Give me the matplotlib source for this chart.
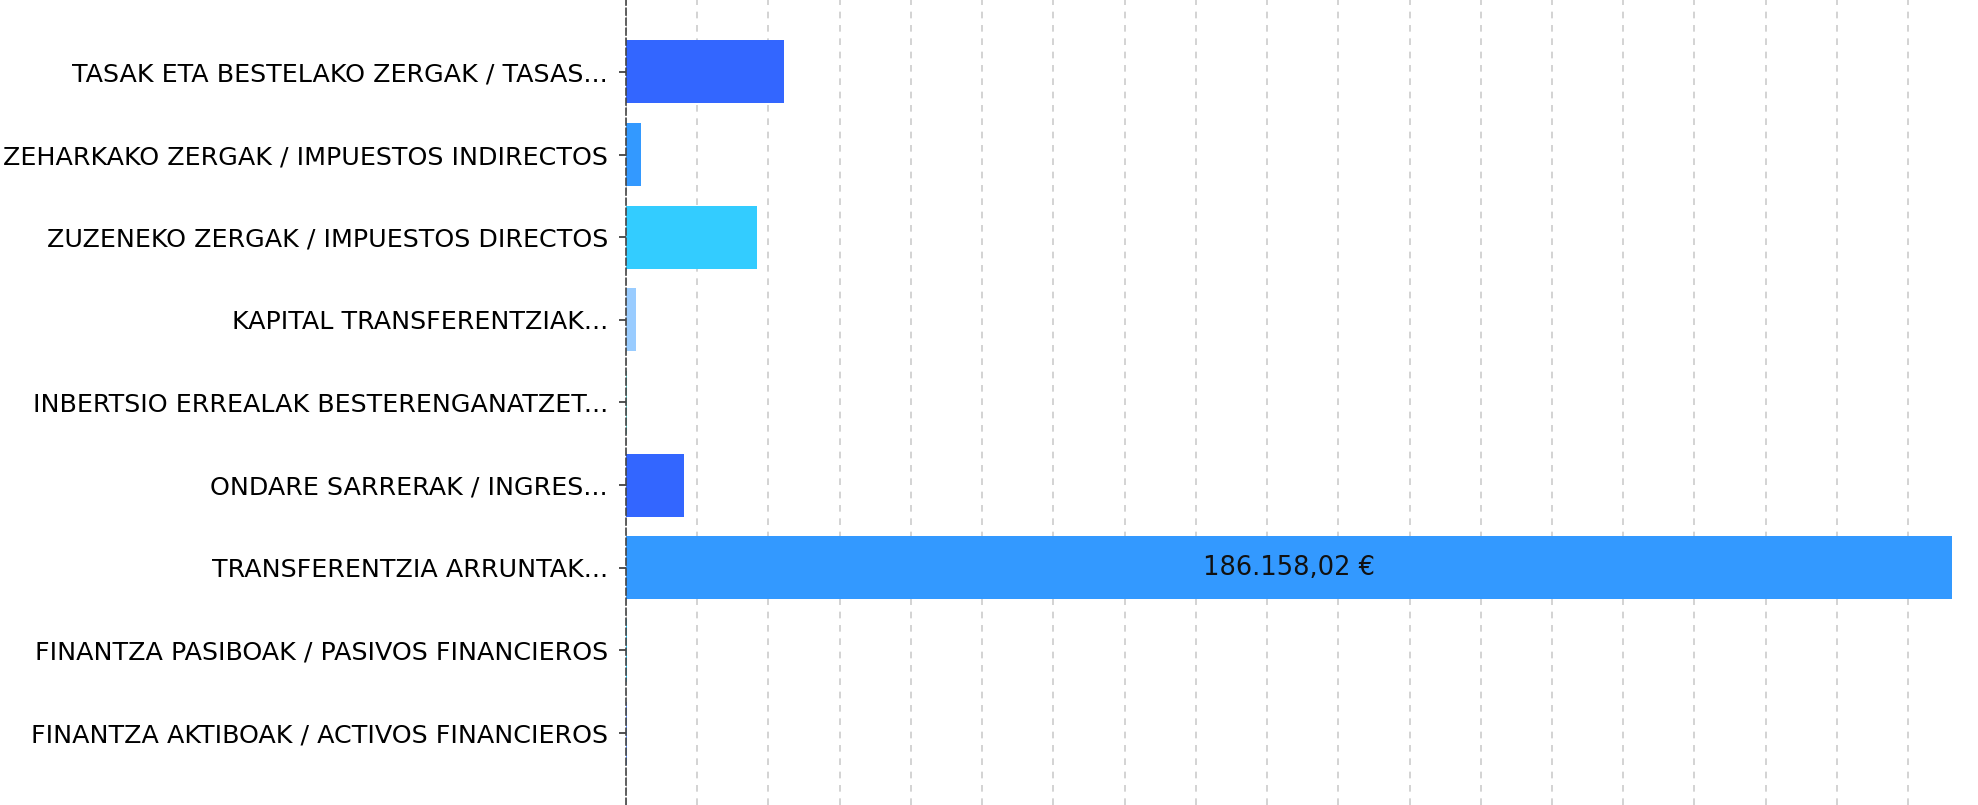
import matplotlib.pyplot as plt
import numpy as np

# categories, top to bottom
categories = [
    "TASAK ETA BESTELAKO ZERGAK / TASAS...",
    "ZEHARKAKO ZERGAK / IMPUESTOS INDIRECTOS",
    "ZUZENEKO ZERGAK / IMPUESTOS DIRECTOS",
    "KAPITAL TRANSFERENTZIAK...",
    "INBERTSIO ERREALAK BESTERENGANATZET...",
    "ONDARE SARRERAK / INGRES...",
    "TRANSFERENTZIA ARRUNTAK...",
    "FINANTZA PASIBOAK / PASIVOS FINANCIEROS",
    "FINANTZA AKTIBOAK / ACTIVOS FINANCIEROS",
]
# amounts in euros
amounts = [22230, 2150, 18440, 1450, 120, 8190, 186158.02, 150, 100]
colors = ["#3366FF", "#3399FF", "#33CCFF", "#99CCFF", "#66CCCC",
          "#3366FF", "#3399FF", "#33CCFF", "#6699FF"]


def euro(v):
    s = f"{v:,.2f}".replace(",", "X").replace(".", ",").replace("X", ".")
    return s + " €"


plt.rcParams['font.family'] = ['DejaVu Sans']
fig = plt.figure(figsize=(19.78, 8.05), dpi=100)
ax = fig.add_axes([626 / 1978, 0, (1952 - 626) / 1978, 1])

y = np.arange(len(categories))
bars = ax.barh(y, amounts, height=0.76, color=colors, zorder=2)

# only the widest bar has room for its value
labels = [euro(v) if v > 0.3 * max(amounts) else "" for v in amounts]
ax.bar_label(bars, labels=labels, label_type="center", fontsize=18.5, color="#111111")

ax.set_yticks(y)
ax.set_yticklabels(categories, fontsize=18.3)
ax.set_ylim(len(categories) - 1 + 0.87, -0.87)
ax.set_xlim(0, max(amounts))

ax.set_xticks(np.arange(0, 180001, 10000))
ax.set_xticklabels([])
ax.tick_params(axis="x", length=0)
ax.tick_params(axis="y", length=5, width=1.2, color="#333333", pad=8)
ax.grid(axis="x", color="#cccccc", linestyle=(0, (4, 4)), linewidth=1.2, zorder=0)

for side in ["top", "right", "bottom"]:
    ax.spines[side].set_visible(False)
ax.spines["left"].set_linestyle((0, (4, 2)))
ax.spines["left"].set_color("#444444")
ax.spines["left"].set_linewidth(1.2)
ax.spines["left"].set_zorder(3)

fig.savefig("out.png", dpi=100)
